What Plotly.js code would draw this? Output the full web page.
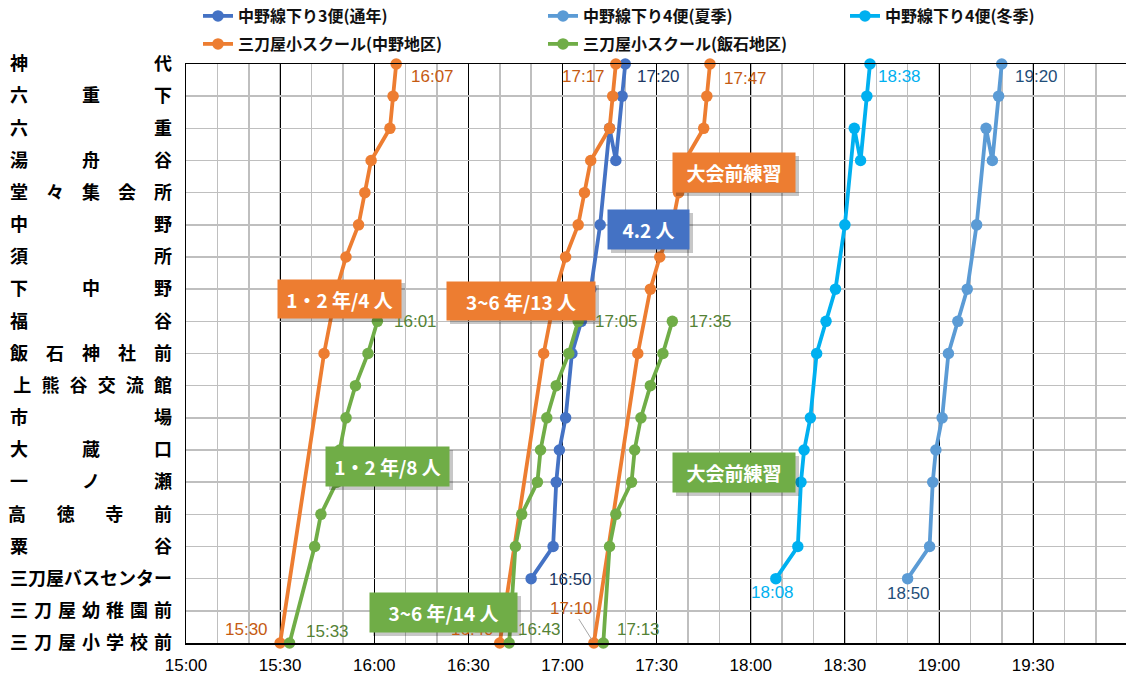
<!DOCTYPE html>
<html><head><meta charset="utf-8">
<script src="https://cdn.plot.ly/plotly-3.0.1.min.js"></script>
<style>html,body{margin:0;padding:0;background:#fff}#chart{width:1126px;height:677px}</style>
</head><body><div id="chart"></div>
<script>
// ---- categories (bottom to top) ----
const stops = ['三刀屋小学校前','三刀屋幼稚園前','三刀屋バスセンター','粟谷','高徳寺前','一ノ瀬','大蔵口','市場','上熊谷交流館','飯石神社前','福谷','下中野','須所','中野','堂々集会所','湯舟谷','六重','六重下','神代'];

// ---- bus routes (route order) ----
const busStops = ['三刀屋バスセンター','粟谷','一ノ瀬','大蔵口','市場','飯石神社前','福谷','下中野','中野','六重','湯舟谷','六重下','神代'];
const bus3Times       = ['16:50','16:57','16:58','16:59','17:01','17:03','17:06','17:09','17:12','17:15','17:17','17:19','17:20'];
const bus4SummerTimes = ['18:50','18:57','18:58','18:59','19:01','19:03','19:06','19:09','19:12','19:15','19:17','19:19','19:20'];
const bus4WinterTimes = ['18:08','18:15','18:16','18:17','18:19','18:21','18:24','18:27','18:30','18:33','18:35','18:37','18:38'];

// ---- school bus, 中野地区 ----
const nakanoStops = ['三刀屋小学校前','飯石神社前','下中野','須所','中野','堂々集会所','湯舟谷','六重','六重下','神代'];
const nakanoRun1 = ['15:30','15:44','15:48','15:51','15:55','15:57','15:59','16:05','16:06','16:07'];
const nakanoRun2 = ['16:40','16:54','16:58','17:01','17:05','17:07','17:09','17:15','17:16','17:17'];
const nakanoRun3 = ['17:10','17:24','17:28','17:31','17:35','17:37','17:39','17:45','17:46','17:47'];

// ---- school bus, 飯石地区 ----
const iishiStops = ['三刀屋小学校前','粟谷','高徳寺前','一ノ瀬','大蔵口','市場','上熊谷交流館','飯石神社前','福谷'];
const iishiRun1 = ['15:33','15:41','15:43','15:48','15:49','15:51','15:54','15:58','16:01'];
const iishiRun2 = ['16:43','16:45','16:47','16:52','16:53','16:55','16:58','17:02','17:05'];
const iishiRun3 = ['17:13','17:15','17:17','17:22','17:23','17:25','17:28','17:32','17:35'];

const seriesNames = ['中野線下り3便(通年)','中野線下り4便(夏季)','中野線下り4便(冬季)','三刀屋小スクール(中野地区)','三刀屋小スクール(飯石地区)'];
const xTickLabels = ['15:00','15:30','16:00','16:30','17:00','17:30','18:00','18:30','19:00','19:30'];
const boxTexts = ['1・2 年/4 人','3~6 年/13 人','4.2 人','大会前練習','1・2 年/8 人','3~6 年/14 人','大会前練習'];

// ---- helpers ----
const day = '2000-01-01 ';
const toX = t => day + t + ':00';
const idx = s => stops.indexOf(s);
// justified tick labels (same total width)
const gaps = {2:'\u3000'.repeat(7),3:'\u3000'.repeat(3),4:'\u3000\u2002\u2009',5:'\u3000',6:'\u2002\u200A',7:'\u2004',9:''};
const stopLabels = stops.map(s => Array.from(s).join(gaps[Array.from(s).length] || ''));

function runsXY(st, runs){
  const x=[], y=[];
  runs.forEach((r,i)=>{ if(i){x.push(null);y.push(null);} r.forEach((t,j)=>{x.push(toX(t)); y.push(idx(st[j]));}); });
  return {x,y};
}

const colors = ['#4472C4','#5B9BD5','#00B0F0','#ED7D31','#70AD47'];
const xyList = [
  runsXY(busStops,[bus3Times]),
  runsXY(busStops,[bus4SummerTimes]),
  runsXY(busStops,[bus4WinterTimes]),
  runsXY(nakanoStops,[nakanoRun1,nakanoRun2,nakanoRun3]),
  runsXY(iishiStops,[iishiRun1,iishiRun2,iishiRun3])
];
const legendIds = ['legend','legend2','legend3','legend4','legend5'];
const traces = xyList.map((xy,i)=>({
  type:'scatter', mode:'lines+markers', x:xy.x, y:xy.y, name:seriesNames[i],
  line:{color:colors[i], width:3.8}, marker:{color:colors[i], size:11.5},
  connectgaps:false, cliponaxis:false, hoverinfo:'skip', legend:legendIds[i]
}));

// ---- data labels ----
const LF = 'Liberation Sans, Arial, sans-serif';
const ann = [];
function lab(t, stop, color, xa, xs, ys){
  ann.push({x:toX(t), y:idx(stop), xref:'x', yref:'y', text:t, showarrow:false,
    xanchor:xa, yanchor:'middle', xshift:xs, yshift:ys, font:{family:LF, size:17, color:color}});
}
const OR='#C55A11', GR='#548235', NV='#203864', SB='#1F4E79', WB='#00B0F0';
lab(nakanoRun1[0], nakanoStops[0], OR,'right',-10,14);
lab(nakanoRun1[9], nakanoStops[9], OR,'left',13,-12);
lab(nakanoRun2[0], nakanoStops[0], OR,'right',-4,14);
lab(nakanoRun2[9], nakanoStops[9], OR,'right',-9,-12);
lab(nakanoRun3[9], nakanoStops[9], OR,'left',12,-14);
ann.push({x:toX(nakanoRun3[0]), y:idx(nakanoStops[0]), xref:'x', yref:'y', text:nakanoRun3[0],
  showarrow:true, arrowhead:0, arrowwidth:1, arrowcolor:'#A6A6A6', ax:-22, ay:-35, standoff:4,
  font:{family:LF, size:17, color:OR}});
lab(iishiRun1[0], iishiStops[0], GR,'left',14,12);
lab(iishiRun1[8], iishiStops[8], GR,'left',15,0);
lab(iishiRun2[0], iishiStops[0], GR,'left',7,14);
lab(iishiRun2[8], iishiStops[8], GR,'left',15,0);
lab(iishiRun3[0], iishiStops[0], GR,'left',12,14);
lab(iishiRun3[8], iishiStops[8], GR,'left',15,0);
lab(bus3Times[0], busStops[0], NV,'left',16,-1);
lab(bus3Times[12], busStops[12], NV,'left',10,-12);
lab(bus4WinterTimes[0], busStops[0], WB,'center',-3,-14);
lab(bus4WinterTimes[12], busStops[12], WB,'left',6,-12);
lab(bus4SummerTimes[0], busStops[0], SB,'center',1,-15);
lab(bus4SummerTimes[12], busStops[12], SB,'left',11,-12);

// ---- text boxes (pixel layout) ----
const PL=186, PR=1126, PT=64, PB=643;
const px = v => (v-PL)/(PR-PL);
const py = v => (PB-v)/(PB-PT);
const boxes = [
  {l:278,t:280,w:123,h:38,c:'#ED7D31'},
  {l:447,t:282,w:148,h:38,c:'#ED7D31'},
  {l:608,t:210,w:81,h:39,c:'#4472C4'},
  {l:673,t:153,w:122,h:39,c:'#ED7D31'},
  {l:326,t:447,w:123,h:39,c:'#70AD47'},
  {l:370,t:593,w:147,h:39,c:'#70AD47'},
  {l:673,t:453,w:122,h:39,c:'#70AD47'}
];
const shapes = [];
boxes.forEach((b,i)=>{
  shapes.push({type:'rect', xref:'paper', yref:'paper', x0:px(b.l+3), x1:px(b.l+b.w+4), y0:py(b.t+b.h+4), y1:py(b.t+3),
    fillcolor:'rgba(0,0,0,0.22)', line:{width:0}, layer:'above'});
  ann.push({xref:'paper', yref:'paper', x:px(b.l+b.w/2), y:py(b.t+b.h/2), xanchor:'center', yanchor:'middle',
    text:'<b>'+boxTexts[i]+'</b>', showarrow:false, bgcolor:b.c, width:b.w-8, height:b.h-8, borderpad:4,
    font:{family:'Noto Sans CJK JP', size:19, color:'#fff'}});
});

// ---- legends ----
const LX = [198,543,845,198,543], LY=[16,16,16,44,44];
const layout = {
  width:1126, height:677, paper_bgcolor:'#fff', plot_bgcolor:'#fff',
  margin:{l:PL, r:1126-PR, t:PT, b:677-PB, autoexpand:false},
  font:{family:'Noto Sans CJK JP, sans-serif', color:'#000'},
  xaxis:{type:'date', range:[toX('15:00'), day+'19:59:36'], tickvals:xTickLabels.map(toX), ticktext:xTickLabels,
    showgrid:true, gridcolor:'#000', gridwidth:1, showline:true, mirror:true, linecolor:'#000', linewidth:1.5,
    zeroline:false, ticks:'outside', ticklen:6, tickcolor:'rgba(0,0,0,0)',
    tickfont:{family:LF, size:17, color:'#000'}, automargin:false,
    minor:{dtick:600000, tick0:toX('15:00'), showgrid:true, gridcolor:'#BFBFBF', gridwidth:1.5, ticks:''}},
  yaxis:{range:[0,18], tickvals:stops.map((s,i)=>i), ticktext:stopLabels, showgrid:true, gridcolor:'#BFBFBF', gridwidth:1.5,
    showline:true, linecolor:'#000', linewidth:1.5, zeroline:false, ticks:'outside', ticklen:9, tickcolor:'rgba(0,0,0,0)',
    tickfont:{family:'Noto Sans CJK JP', size:18, color:'#000', weight:'bold'}, automargin:false, fixedrange:true},
  showlegend:true, annotations:ann, shapes:shapes
};
legendIds.forEach((id,i)=>{
  layout[id] = {xref:'container', yref:'container', x:LX[i]/1126, y:1-LY[i]/677, xanchor:'left', yanchor:'middle',
    orientation:'v', bgcolor:'rgba(0,0,0,0)', borderwidth:0, itemwidth:30,
    font:{family:'Noto Sans CJK JP', size:16, color:'#111', weight:'bold'}};
});
Plotly.newPlot('chart', traces, layout, {displayModeBar:false, staticPlot:true});
</script></body></html>
